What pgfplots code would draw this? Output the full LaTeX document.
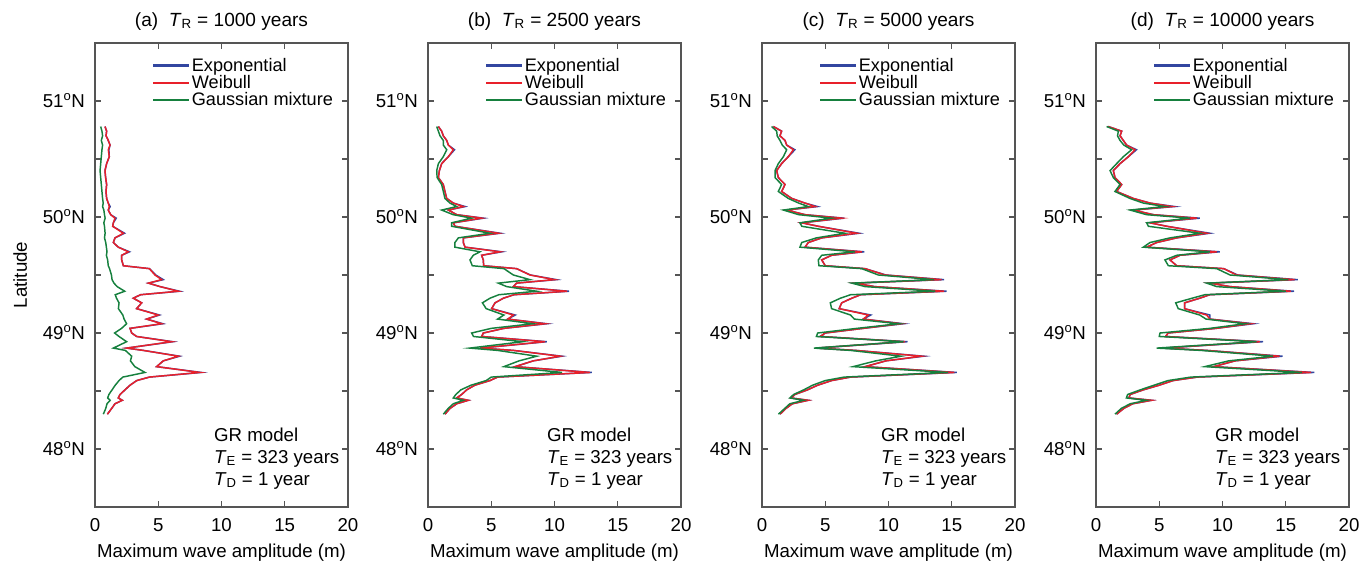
\documentclass[border=0pt]{standalone}
\usepackage{fontspec}
\setmainfont{Liberation Sans}
\usepackage{pgfplots}
\usepackage{pgfplotstable}
\pgfplotsset{compat=1.18}
\definecolor{cExp}{RGB}{50,70,160}
\definecolor{cWei}{RGB}{232,32,42}
\definecolor{cGau}{RGB}{22,128,62}
\definecolor{cFrame}{RGB}{85,85,85}

\pgfplotstableread{
lat eA wA gA eB wB gB eC wC gC eD wD gD
50.78 0.79 0.79 0.45 0.82 0.82 0.69 0.90 0.90 0.76 0.97 0.97 0.84
50.74 0.92 0.92 0.55 1.08 1.08 0.82 1.55 1.55 1.16 2.03 2.03 1.77
50.70 0.87 0.87 0.60 1.21 1.21 0.95 1.42 1.42 1.20 1.90 1.90 1.70
50.66 1.05 1.05 0.50 1.48 1.48 1.21 1.82 1.82 1.42 2.16 2.16 1.90
50.62 1.19 1.19 0.60 1.61 1.61 1.21 1.95 1.95 1.60 2.42 2.42 2.20
50.58 1.10 1.05 0.55 2.10 2.00 1.48 2.60 2.48 1.95 3.20 3.08 2.82
50.52 1.13 1.13 0.50 1.61 1.61 1.21 2.08 2.08 1.69 2.56 2.56 2.16
50.46 0.92 0.92 0.45 1.08 1.08 0.82 1.55 1.55 1.29 1.90 1.90 1.63
50.40 0.79 0.79 0.40 0.90 0.90 0.69 1.16 1.16 1.03 1.37 1.37 1.11
50.34 0.84 0.84 0.45 0.82 0.82 0.72 1.29 1.29 1.03 1.50 1.50 1.37
50.28 0.92 0.92 0.50 1.21 1.21 1.08 1.82 1.82 1.55 2.03 2.03 1.90
50.22 0.87 0.87 0.55 1.34 1.34 1.21 1.55 1.55 1.29 1.63 1.63 1.50
50.16 0.92 0.92 0.60 1.48 1.48 1.34 2.35 2.35 2.08 2.95 2.95 2.69
50.12 1.05 1.05 0.65 2.00 2.00 1.74 3.40 3.40 2.90 4.27 4.27 3.74
50.09 1.20 1.13 0.60 2.94 2.79 2.27 4.39 4.19 3.66 6.23 5.98 5.45
50.06 1.05 1.05 0.70 1.61 1.61 1.08 1.95 1.95 1.69 2.95 2.95 2.69
50.02 1.24 1.24 0.75 2.27 2.27 2.00 3.40 3.40 2.90 4.53 4.53 4.00
49.99 1.68 1.58 0.80 4.39 4.24 3.45 6.50 6.30 5.50 8.21 7.96 7.43
49.95 1.45 1.45 0.70 2.00 2.00 1.87 3.14 3.14 3.00 4.27 4.27 4.00
49.92 1.40 1.40 0.75 2.13 2.13 1.87 4.45 4.45 3.14 5.60 5.60 4.14
49.86 2.34 2.24 0.80 5.71 5.56 4.90 7.68 7.48 6.56 9.00 8.75 8.22
49.82 1.58 1.58 0.75 2.79 2.79 2.40 4.72 4.72 4.30 6.38 6.38 5.85
49.78 1.45 1.45 0.85 2.79 2.79 2.13 3.66 3.66 3.14 4.80 4.80 4.27
49.74 1.84 1.84 0.90 2.93 2.93 2.13 3.40 3.40 3.00 4.00 4.00 3.74
49.70 2.73 2.63 0.95 5.84 5.69 4.11 8.08 7.88 7.35 9.79 9.54 9.00
49.67 2.11 2.11 0.90 4.24 4.24 3.58 5.50 5.50 4.72 6.64 6.64 6.38
49.63 2.11 2.11 1.00 4.37 4.37 3.32 4.72 4.72 4.45 5.85 5.85 5.45
49.58 2.24 2.24 1.05 4.40 4.40 3.50 5.00 5.00 4.50 6.38 6.38 5.72
49.555 4.30 4.30 1.15 7.00 7.00 6.00 8.14 8.14 7.88 10.10 10.10 9.54
49.50 4.80 4.74 1.30 8.10 8.06 6.75 9.80 9.72 9.20 11.20 11.10 10.60
49.46 5.40 5.27 1.35 10.15 10.00 8.06 14.40 14.20 13.60 15.95 15.70 15.20
49.43 4.22 4.22 1.50 7.00 7.00 5.56 7.35 7.35 7.10 9.00 9.00 8.75
49.40 5.14 5.14 1.75 6.75 6.75 6.22 8.90 8.90 8.15 10.60 10.60 9.54
49.36 6.69 6.59 2.35 11.15 11.00 8.60 14.60 14.40 13.70 15.65 15.40 15.00
49.33 3.60 3.60 1.60 6.80 6.80 5.60 7.80 7.80 7.00 9.00 9.00 8.60
49.30 3.03 3.03 1.70 5.96 5.96 4.90 7.10 7.10 6.20 8.20 8.20 7.60
49.26 3.69 3.69 1.90 5.30 5.30 4.30 6.30 6.30 5.40 7.00 7.00 6.30
49.21 3.29 3.29 1.85 5.03 5.03 4.60 6.10 6.10 5.50 7.00 7.00 6.50
49.155 5.10 5.00 2.20 6.90 6.75 6.00 8.60 8.40 7.00 9.00 8.75 8.20
49.12 4.08 4.08 2.30 6.30 6.30 5.50 8.00 8.00 7.30 9.00 9.00 8.70
49.08 5.37 5.27 2.50 9.40 9.25 8.30 11.20 11.00 10.80 12.45 12.20 11.80
49.04 2.77 2.77 2.10 6.00 6.00 5.00 8.00 8.00 7.50 9.50 9.50 9.00
49.00 2.90 2.90 1.55 4.37 4.37 3.45 5.00 5.00 4.40 5.70 5.70 5.06
48.97 3.29 3.29 1.90 4.24 4.24 3.60 4.60 4.60 4.30 5.50 5.50 5.00
48.925 6.16 6.06 2.50 9.40 9.25 7.50 11.50 11.30 11.20 13.21 12.96 12.70
48.87 2.50 2.50 1.45 4.11 4.11 3.30 4.30 4.30 4.10 5.30 5.30 4.80
48.85 3.82 3.82 2.40 6.75 6.75 5.50 7.40 7.40 7.00 8.75 8.75 8.30
48.80 6.69 6.59 2.90 10.59 10.44 8.60 12.80 12.60 11.00 14.75 14.50 14.00
48.76 5.40 5.40 2.80 8.33 8.33 7.20 9.80 9.80 9.00 11.00 11.00 10.50
48.71 4.87 4.87 3.15 6.88 6.88 6.00 8.15 8.15 7.20 9.30 9.30 8.60
48.66 8.40 8.30 3.95 12.95 12.80 10.60 15.40 15.20 14.70 17.25 17.00 16.30
48.62 4.30 4.30 2.20 5.50 5.50 5.00 7.00 7.00 6.50 8.00 8.00 7.50
48.59 3.30 3.30 1.90 4.90 4.90 4.60 5.50 5.50 5.00 6.10 6.10 5.70
48.55 2.77 2.77 1.60 3.70 3.70 3.40 4.40 4.40 4.00 5.00 5.00 4.60
48.51 2.37 2.37 1.35 3.06 3.06 2.60 3.60 3.60 3.30 3.74 3.74 3.50
48.47 1.98 1.98 1.10 2.66 2.66 2.20 2.60 2.60 2.50 2.70 2.70 2.50
48.44 1.84 1.84 1.00 2.27 2.27 2.00 2.30 2.30 2.20 2.60 2.60 2.40
48.42 2.16 2.16 1.20 3.19 3.19 2.80 3.66 3.66 3.30 4.40 4.40 4.00
48.39 1.58 1.58 0.95 2.27 2.27 2.00 2.40 2.40 2.20 2.90 2.90 2.70
48.35 1.32 1.32 0.85 1.74 1.74 1.60 1.90 1.90 1.80 2.20 2.20 2.00
48.30 0.98 0.98 0.66 1.34 1.34 1.21 1.42 1.42 1.30 1.63 1.63 1.50
}\data

\tikzset{ann/.style={anchor=west, align=left, font=\fontsize{14}{16.5}\selectfont}}

\pgfplotsset{
  panel/.style={
    scale only axis, width=189.75pt, height=348pt,
    xmin=0, xmax=20, ymin=47.5, ymax=51.5,
    xtick={0,5,10,15,20},
    ytick={48,49,50,51},
    yticklabels={48\textsuperscript{o}N,49\textsuperscript{o}N,50\textsuperscript{o}N,51\textsuperscript{o}N},
    minor ytick={48.5,49.5,50.5},
    tick align=inside,
    major tick length=4.5pt, minor tick length=4.5pt,
    axis line style={cFrame, line width=1.1pt},
    every tick/.style={cFrame, line width=1.1pt},
    every minor tick/.style={cFrame, line width=1.1pt},
    tick label style={font=\fontsize{14}{16}\selectfont, text=black},
    xticklabel style={yshift=-5pt},
    yticklabel style={xshift=-4pt},
    /pgf/number format/assume math mode=true,
    xlabel={Maximum wave amplitude (m)},
    xlabel style={at={(axis description cs:0.5,-0.099)}, anchor=center, font=\fontsize{14}{16}\selectfont},
    title style={at={(axis description cs:0.5,1.03)}, anchor=center, font=\fontsize{14.3}{16}\selectfont},
    legend style={at={(axis description cs:0.208,0.978)}, anchor=north west, draw=none, fill=none,
      font=\fontsize{13.6}{15}\selectfont, row sep=-1.5pt, nodes={inner sep=1.5pt}},
    legend cell align=left,
    legend image code/.code={\draw[#1] (0pt,0pt) -- (26.5pt,0pt);},
  },
  exp/.style={cExp, line width=1.1pt, forget plot},
  wei/.style={cWei, line width=1.1pt, forget plot},
  gau/.style={cGau, line width=1.1pt, forget plot},
  leg/.code={
    \addlegendimage{cExp, line width=2pt}
    \addlegendimage{cWei, line width=2pt}
    \addlegendimage{cGau, line width=2pt}
  },
}

\begin{document}
\begin{tikzpicture}
\path[use as bounding box] (-71.25pt,-46.5pt) rectangle (957pt,380.25pt);

\begin{axis}[panel, at={(0pt,0pt)}, anchor=south west,
  title={(a)\ \ \textit{T}\textsubscript{R} = 1000 years},
  ylabel={Latitude},
  ylabel style={at={(axis description cs:-0.296,0.5)}, rotate=0, anchor=center, font=\fontsize{14}{16}\selectfont}]
\addlegendimage{cExp, line width=2pt}
\addlegendimage{cWei, line width=2pt}
\addlegendimage{cGau, line width=2pt}
\addplot[exp] table[x=eA, y=lat] {\data};
\addplot[wei] table[x=wA, y=lat] {\data};
\addplot[gau] table[x=gA, y=lat] {\data};
\legend{Exponential, Weibull, Gaussian mixture}
\node[ann] at (axis cs:9.05,47.92)
  {GR model\\\textit{T}\textsubscript{E} = 323 years\\\textit{T}\textsubscript{D} = 1 year};
\end{axis}

\begin{axis}[panel, at={(249.75pt,0pt)}, anchor=south west,
  title={(b)\ \ \textit{T}\textsubscript{R} = 2500 years}]
\addlegendimage{cExp, line width=2pt}
\addlegendimage{cWei, line width=2pt}
\addlegendimage{cGau, line width=2pt}
\addplot[exp] table[x=eB, y=lat] {\data};
\addplot[wei] table[x=wB, y=lat] {\data};
\addplot[gau] table[x=gB, y=lat] {\data};
\legend{Exponential, Weibull, Gaussian mixture}
\node[ann] at (axis cs:9.05,47.92)
  {GR model\\\textit{T}\textsubscript{E} = 323 years\\\textit{T}\textsubscript{D} = 1 year};
\end{axis}

\begin{axis}[panel, at={(500.25pt,0pt)}, anchor=south west,
  title={(c)\ \ \textit{T}\textsubscript{R} = 5000 years}]
\addlegendimage{cExp, line width=2pt}
\addlegendimage{cWei, line width=2pt}
\addlegendimage{cGau, line width=2pt}
\addplot[exp] table[x=eC, y=lat] {\data};
\addplot[wei] table[x=wC, y=lat] {\data};
\addplot[gau] table[x=gC, y=lat] {\data};
\legend{Exponential, Weibull, Gaussian mixture}
\node[ann] at (axis cs:9.05,47.92)
  {GR model\\\textit{T}\textsubscript{E} = 323 years\\\textit{T}\textsubscript{D} = 1 year};
\end{axis}

\begin{axis}[panel, at={(750.75pt,0pt)}, anchor=south west,
  title={(d)\ \ \textit{T}\textsubscript{R} = 10000 years}]
\addlegendimage{cExp, line width=2pt}
\addlegendimage{cWei, line width=2pt}
\addlegendimage{cGau, line width=2pt}
\addplot[exp] table[x=eD, y=lat] {\data};
\addplot[wei] table[x=wD, y=lat] {\data};
\addplot[gau] table[x=gD, y=lat] {\data};
\legend{Exponential, Weibull, Gaussian mixture}
\node[ann] at (axis cs:9.05,47.92)
  {GR model\\\textit{T}\textsubscript{E} = 323 years\\\textit{T}\textsubscript{D} = 1 year};
\end{axis}
\end{tikzpicture}
\end{document}
